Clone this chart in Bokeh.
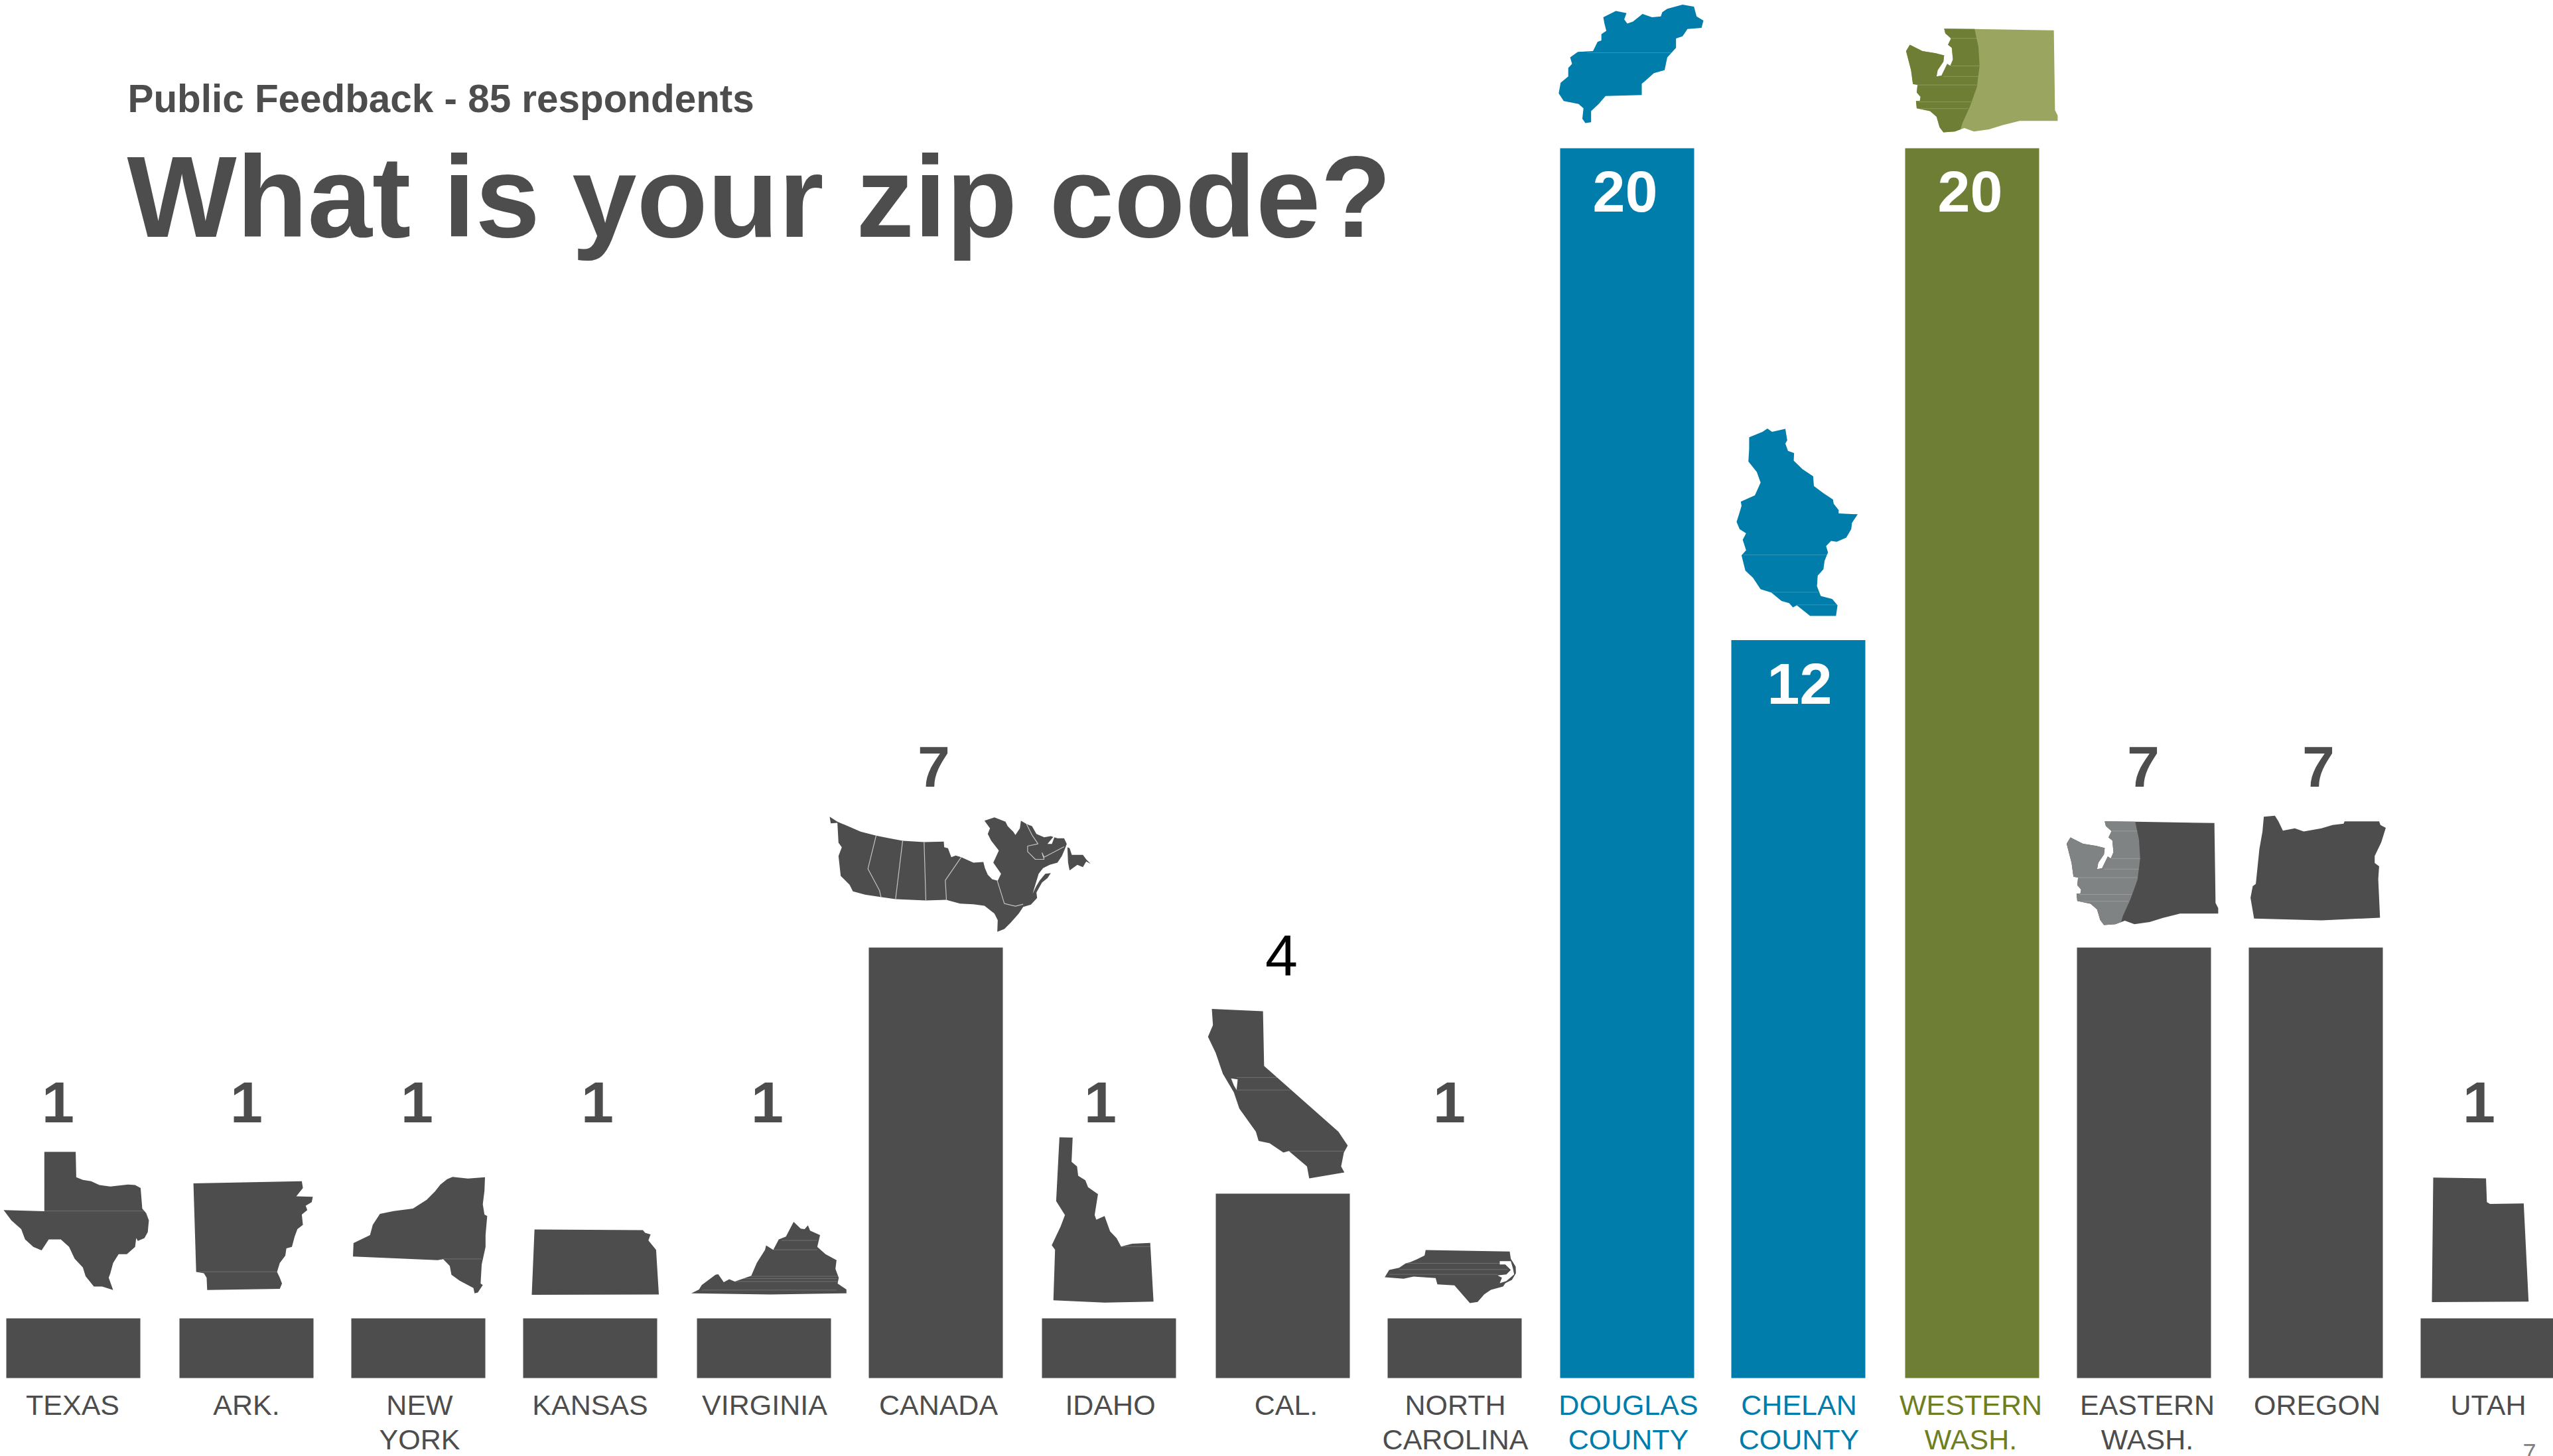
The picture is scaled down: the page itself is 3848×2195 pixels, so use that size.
from bokeh.plotting import figure
from bokeh.models import Range1d, ColumnDataSource
from bokeh.core.properties import value
from bokeh.embed import file_html
from bokeh.resources import INLINE

# ---------- data ----------
categories = ["TEXAS", "ARK.", "NEW\nYORK", "KANSAS", "VIRGINIA", "CANADA", "IDAHO", "CAL.",
              "NORTH\nCAROLINA", "DOUGLAS\nCOUNTY", "CHELAN\nCOUNTY", "WESTERN\nWASH.",
              "EASTERN\nWASH.", "OREGON", "UTAH"]
respondents = [1, 1, 1, 1, 1, 7, 1, 4, 1, 20, 12, 20, 7, 7, 1]      # printed numbers
bar_heights = [0.97, 0.97, 0.97, 0.97, 0.97, 7, 0.97, 3, 0.97, 20, 12, 20, 7, 7, 0.97]  # drawn heights

# ---------- colours ----------
DARK, BLUE, OLIVE, OLIVE_LIGHT, GREY_WA = "#4d4d4d", "#007dab", "#6e7f35", "#9aa55f", "#808383"
OLIVE_TXT = "#6f7f1f"
bar_colors = [DARK] * 9 + [BLUE, BLUE, OLIVE] + [DARK] * 3
label_colors = [DARK] * 9 + [BLUE, BLUE, OLIVE_TXT] + [DARK] * 3
num_colors = [DARK] * 7 + ["#000000", DARK, "#ffffff", "#ffffff", "#ffffff", DARK, DARK, DARK]
num_styles = ["bold"] * 7 + ["normal"] + ["bold"] * 7

# ---------- layout (reference pixels) ----------
W, H = 3848, 2195
bar_lefts = [9, 270, 529, 788, 1050, 1309, 1570, 1832, 2091, 2351, 2609, 2871, 3130, 3389, 3648]
label_x = [109, 371, 632, 889, 1152, 1414, 1673, 1938, 2193, 2454, 2711, 2970, 3236, 3492, 3750]
num_x = [87, 371, 628, 900, 1156, 1407, 1658, 1931, 2184, 2449, 2712, 2969, 3230, 3494, 3736]
num_y = [1690, 1690, 1690, 1690, 1690, 1184, 1690, 1470, 1690, 317, 1059, 317, 1184, 1184, 1690]

# ---------- silhouette traces, in crop coordinates ----------
Z1 = (0, 1498, 1.206, 2.256)
Z2 = (1200, 1098, 1.206, 1.432)
Z3 = (2280, 0, 1.742, 1.568)
Z4 = (2800, 1098, 1.496, 1.432)
Z5 = (1240, 1220, 3, 3)
Z6 = (2080, 1869, 3, 3)

texas = [(80,537),(137,537),(138,623),(150,632),(165,637),(180,650),(200,655),(232,648),(245,650),(255,660),(258,730),(265,745),(270,770),(268,810),(262,830),(250,840),(247,830),(245,860),(230,885),(215,885),(205,915),(200,950),(197,965),(205,1007),(185,995),(170,995),(155,960),(150,930),(135,900),(125,860),(110,835),(88,835),(75,872),(60,860),(45,835),(38,800),(20,770),(6,735),(80,739)]
ark = [(351,644),(548,637),(550,660),(538,688),(568,690),(566,708),(555,720),(558,735),(548,750),(550,785),(540,800),(535,825),(530,860),(520,865),(518,890),(508,915),(503,945),(508,965),(512,985),(508,1003),(376,1007),(375,965),(370,950),(356,945)]
new_york = [(822,622),(850,628),(881,623),(880,670),(877,715),(880,750),(885,755),(882,820),(882,860),(875,920),(873,985),(877,990),(868,1015),(862,1018),(860,1000),(835,975),(820,955),(817,925),(805,902),(795,905),(641,893),(642,847),(672,820),(677,785),(690,748),(715,738),(750,730),(775,700),(790,672),(800,648),(812,630)]
kansas = [(971,801),(1168,803),(1172,812),(1182,818),(1178,838),(1192,870),(1197,1022),(966,1023)]
virginia = [(1256,1018),(1270,1005),(1275,990),(1300,955),(1305,953),(1315,980),(1325,970),(1335,978),(1365,958),(1375,915),(1390,870),(1392,855),(1405,870),(1415,835),(1428,825),(1442,775),(1455,798),(1462,800),(1468,787),(1472,805),(1490,820),(1485,860),(1500,885),(1520,905),(1518,935),(1524,965),(1522,985),(1538,1005),(1538,1018),(1400,1022)]
canada = [(30,32),(65,55),(120,78),(170,100),(240,118),(300,130),(360,141),(457,147),(546,145),(548,170),(565,175),(580,215),(600,208),(625,215),(680,240),(725,237),(732,265),(745,295),(765,315),(790,322),(805,290),(770,240),(795,185),(760,140),(745,110),(755,85),(730,50),(775,35),(800,45),(825,55),(835,75),(860,100),(870,115),(890,85),(895,50),(920,65),(945,75),(965,110),(1000,125),(1030,120),(1060,130),(1090,130),(1102,155),(1095,175),(1080,210),(1060,240),(1025,250),(995,265),(975,290),(960,340),(948,380),(965,345),(980,320),(1005,290),(1030,287),(1015,310),(990,330),(965,375),(968,400),(940,430),(905,440),(885,470),(850,510),(820,540),(788,553),(790,500),(775,470),(730,435),(680,428),(620,425),(570,412),(558,408),(465,411),(328,405),(260,395),(190,385),(135,370),(120,340),(80,300),(70,210),(85,170),(70,150),(65,60),(35,62)]
gulf_slit = [(1015,155),(1040,125),(1050,115),(1035,155)]
newfoundland = [(1105,170),(1115,175),(1125,205),(1150,205),(1175,205),(1190,225),(1210,245),(1190,235),(1175,260),(1150,250),(1115,275),(1108,240)]
canada_borders = [[(240,118),(203,268),(255,365),(262,395)], [(360,141),(328,405)], [(457,147),(465,411)],
                  [(625,215),(553,320),(558,408)], [(788,322),(820,425),(870,437),(905,428)],
                  [(920,65),(945,115),(972,155),(925,165),(925,190),(960,225),(1000,225),(990,195),(1000,215),(1090,168)]]
idaho = [(478,882),(502,883),(500,935),(510,945),(512,965),(525,975),(530,990),(548,1005),(542,1050),(545,1060),(560,1052),(570,1085),(582,1100),(590,1118),(610,1112),(643,1110),(649,1237),(560,1239),(467,1234),(470,1125),(464,1115),(480,1075),(488,1050),(472,1020)]
california = [(755,605),(848,610),(850,728),(985,870),(1002,900),(995,915),(990,945),(996,958),(932,971),(928,945),(895,912),(885,915),(860,895),(840,890),(835,870),(805,820),(795,785),(775,745),(762,700),(748,665),(757,640)]
cal_bay = [(790,755),(802,757),(800,780),(795,770)]
n_carolina = [(205,45),(585,52),(590,85),(612,120),(613,150),(595,180),(565,195),(555,210),(500,225),(470,245),(440,280),(405,285),(335,205),(258,200),(250,172),(150,165),(105,175),(20,168),(40,135),(85,125),(115,105),(135,100),(165,87),(200,70)]
nc_sound = [(540,95),(590,95),(600,130),(605,155),(570,185),(540,195),(550,170),(530,160),(570,155),(590,135),(565,110),(540,110)]
douglas = [(237,40),(270,25),(298,30),(292,45),(300,55),(315,50),(340,32),(365,40),(388,38),(392,28),(405,20),(445,10),(475,15),(482,38),(500,48),(495,65),(458,68),(445,85),(428,90),(428,112),(415,125),(405,135),(398,165),(370,172),(345,192),(338,197),(338,224),(243,226),(225,245),(205,262),(205,288),(190,290),(182,280),(185,255),(172,245),(133,238),(120,220),(125,195),(145,180),(145,160),(155,150),(150,135),(170,122),(210,120),(222,98),(232,95),(232,80),(245,72),(240,55)]
chelan = [(620,1033),(655,1020),(668,1012),(680,1020),(715,1013),(720,1040),(715,1048),(722,1065),(738,1070),(737,1088),(760,1108),(788,1125),(790,1148),(815,1165),(840,1180),(842,1190),(855,1205),(855,1213),(905,1215),(890,1235),(888,1250),(875,1270),(850,1280),(835,1278),(822,1290),(827,1305),(818,1325),(815,1345),(800,1360),(798,1385),(808,1408),(838,1415),(852,1430),(848,1455),(780,1455),(745,1430),(735,1435),(725,1425),(705,1420),(678,1400),(650,1392),(630,1365),(610,1348),(600,1312),(612,1300),(603,1275),(612,1260),(595,1250),(587,1233),(595,1210),(600,1195),(598,1185),(635,1170),(645,1150),(650,1140),(640,1115),(618,1090),(620,1060)]
wa_east_edge = [(1212,68),(1222,110),(1225,155),(1218,205),(1200,250),(1180,290),(1175,305)]
wa_south_east = [(1420,71),(1423,260),(1430,272),(1430,285),(1330,285),(1285,295),(1250,305),(1210,310),(1185,302)]
wa_west = [(1160,310),(1130,312),(1120,300),(1112,275),(1095,262),(1060,255),(1058,238),(1068,238),(1070,228),(1060,218),(1062,200),(1050,198),(1045,165),(1032,120),(1042,105),(1075,120),(1110,125),(1132,130),(1130,145),(1115,165),(1112,180),(1125,178),(1140,150),(1148,155),(1155,140),(1152,112),(1142,105),(1150,90),(1135,78),(1132,67)]
oregon = [(915,190),(940,188),(948,200),(958,220),(985,215),(1005,222),(1045,215),(1070,208),(1095,205),(1097,200),(1175,200),(1178,208),(1190,214),(1180,245),(1165,275),(1165,290),(1175,297),(1173,325),(1177,408),(1045,414),(893,410),(885,365),(890,340),(897,335),(905,260),(912,222)]
utah = [(1297,969),(1416,971),(1418,1022),(1425,1026),(1501,1025),(1512,1237),(1294,1238)]

# thin seams across the silhouettes
seams_z1 = [[(80,738),(262,738)], [(360,945),(503,945)], [(805,901),(875,901)], [(1420,838),(1485,838)],
            [(1405,870),(1485,870)], [(1340,960),(1522,960)], [(1325,968),(1522,968)], [(1335,978),(1524,978)],
            [(1275,1007),(1520,1007)]]
seams_z2 = [[(800,753),(875,753)], [(800,780),(898,780)], [(895,912),(995,912)], [(590,1118),(645,1118)]]
seams_z3 = [[(195,124),(415,124)], [(605,1311),(825,1311)], [(675,1399),(802,1399)], [(745,1429),(852,1429)]]
seams_wa = [[(1150,90),(1218,90)], [(1150,155),(1225,155)], [(1130,180),(1222,180)], [(1050,200),(1218,200)],
            [(1065,240),(1203,240)], [(1070,256),(1195,256)]]
seams_z6 = [[(115,105),(540,105)], [(85,133),(575,133)], [(40,155),(530,155)]]


def ref(points, zoom, dx=0, dy=0):
    ox, oy, sx, sy = zoom
    return [p[0] / sx + ox + dx for p in points], [p[1] / sy + oy + dy for p in points]


# ---------- figure ----------
bar_width_px = 202.0
unit_px, base_px = 92.7, 2077.0

p = figure(width=W, height=H, output_backend="svg", toolbar_location=None,
           x_range=Range1d(0, W),
           y_range=Range1d((base_px - H) / unit_px, base_px / unit_px),
           min_border=0, outline_line_color=None, background_fill_color="white")
p.axis.visible = False
p.grid.visible = False
p.extra_y_ranges["px"] = Range1d(H, 0)
PX = dict(y_range_name="px")

bars = ColumnDataSource(dict(x=[l + bar_width_px / 2 for l in bar_lefts], top=bar_heights, color=bar_colors))
p.vbar(x="x", top="top", bottom=0, width=bar_width_px, fill_color="color", line_color=None, source=bars)


def shape(points, zoom, color, dx=0, dy=0):
    xs, ys = ref(points, zoom, dx, dy)
    p.patch(xs, ys, fill_color=color, line_color=None, **PX)


def seams(lines, zoom, color="#ffffff", alpha=0.2, dx=0, dy=0, width=1.0):
    for line in lines:
        xs, ys = ref(line, zoom, dx, dy)
        p.line(xs, ys, line_color=color, line_alpha=alpha, line_width=width, **PX)


for pts, z, c in [(texas, Z1, DARK), (ark, Z1, DARK), (new_york, Z1, DARK), (kansas, Z1, DARK), (virginia, Z1, DARK),
                  (canada, Z5, DARK), (gulf_slit, Z5, "#ffffff"), (newfoundland, Z5, DARK), (idaho, Z2, DARK),
                  (california, Z2, DARK), (cal_bay, Z2, "#ffffff"), (n_carolina, Z6, DARK), (nc_sound, Z6, "#ffffff"),
                  (douglas, Z3, BLUE), (chelan, Z3, BLUE), (oregon, Z4, DARK), (utah, Z4, DARK)]:
    shape(pts, z, c)

seams(canada_borders, Z5, color="#c4c4c4", alpha=1.0, width=1.2)
seams(seams_z1, Z1)
seams(seams_z2, Z2)
seams(seams_z6, Z6)
seams(seams_z3, Z3)

wa_whole = [wa_east_edge[0]] + wa_south_east + wa_west
wa_left = wa_east_edge + wa_west
shape(wa_whole, Z3, OLIVE_LIGHT)
shape(wa_left, Z3, OLIVE)
seams(seams_wa, Z3)
shape(wa_whole, Z3, DARK, dx=242, dy=1195)
shape(wa_left, Z3, GREY_WA, dx=242, dy=1195)
seams(seams_wa, Z3, dx=242, dy=1195)

# ---------- texts ----------
FONT = value("Liberation Sans")
SHIFT = 0.33


def baseline(y, size):
    return y - SHIFT * size


first_lines = [c.split("\n")[0] for c in categories]
second = [(label_x[i], c.split("\n")[1], label_colors[i]) for i, c in enumerate(categories) if "\n" in c]
p.text(x=label_x, y=[baseline(2132, 43)] * len(categories), text=first_lines, text_color=label_colors, text_font=FONT,
       text_font_size="43px", text_align="center", text_baseline="alphabetic", **PX)
p.text(x=[s[0] for s in second], y=[baseline(2184, 43)] * len(second), text=[s[1] for s in second],
       text_color=[s[2] for s in second], text_font=FONT,
       text_font_size="43px", text_align="center", text_baseline="alphabetic", **PX)
p.text(x=num_x, y=[baseline(v, 88) for v in num_y], text=[str(v) for v in respondents], text_color=num_colors,
       text_font_style=num_styles, text_font=FONT, text_font_size="88px", text_align="center",
       text_baseline="alphabetic", **PX)
p.text(x=[191], y=[baseline(354, 175)], text=["What is your zip code?"], text_color=DARK, text_font=FONT,
       text_font_style="bold", text_font_size="175px", text_align="left", text_baseline="alphabetic", **PX)
p.text(x=[192], y=[baseline(167, 58.4)], text=["Public Feedback - 85 respondents"], text_color=DARK, text_font=FONT,
       text_font_style="bold", text_font_size="58.4px", text_align="left", text_baseline="alphabetic", **PX)
p.text(x=[3812], y=[baseline(2201, 36)], text=["7"], text_color="#808080", text_font=FONT, text_font_size="36px",
       text_align="center", text_baseline="alphabetic", **PX)

open("out.html", "w").write(file_html(p, INLINE))
